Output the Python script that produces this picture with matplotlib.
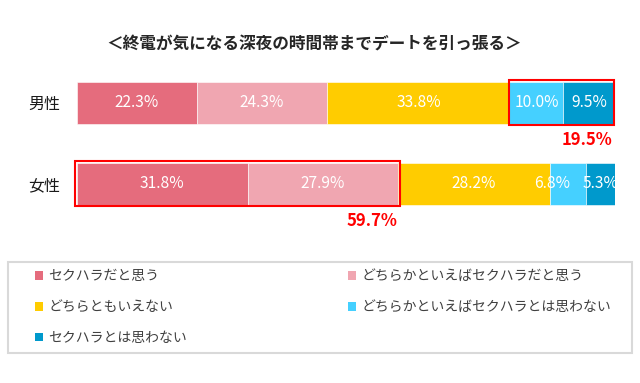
import numpy as np
import matplotlib
matplotlib.use("Agg")
import matplotlib.pyplot as plt
from matplotlib.patches import Patch, Rectangle

plt.rcParams['font.family'] = ['Noto Sans CJK JP', 'DejaVu Sans']

title = "＜終電が気になる深夜の時間帯までデートを引っ張る＞"
groups = ["男性", "女性"]
answers = ["セクハラだと思う", "どちらかといえばセクハラだと思う", "どちらともいえない",
           "どちらかといえばセクハラとは思わない", "セクハラとは思わない"]
male = [22.3, 24.3, 33.8, 10.0, 9.5]
female = [31.8, 27.9, 28.2, 6.8, 5.3]
colors = ["#E56C7D", "#F0A6B1", "#FFCC00", "#45D0FF", "#0099CC"]

# which segments get the red box for each group
boxed = [(3, 5), (0, 2)]

values = np.array([male, female])

fig = plt.figure(figsize=(6.4, 3.83), dpi=100)
W, H = 640, 383
ax = fig.add_axes([76.5 / W, 1 - 240 / H, (615 - 76.5) / W, 180 / H])

bar_h = 0.525
y = np.arange(len(groups))
left = np.zeros(len(groups))
last = len(answers) - 1
for i, name in enumerate(answers):
    ax.barh(y, values[:, i], left=left, height=bar_h, color=colors[i],
            edgecolor='white', linewidth=0.4, label=name)
    for j in range(len(groups)):
        # narrow segments in the middle: label pushed left like the original
        dx = -16 if (values[j, i] < 8 and i != last) else 0
        ax.annotate(f"{values[j, i]:.1f}%", xy=(left[j] + values[j, i] / 2, y[j]),
                    xytext=(dx, 0), textcoords='offset pixels',
                    ha='center', va='center', color='white', fontsize=11.2)
    left += values[:, i]

# red boxes + totals
for j, (a, b) in enumerate(boxed):
    x0 = values[j, :a].sum()
    x1 = values[j, :b].sum()
    pad_x = 0.35 if a == 0 else 0.0
    rect = Rectangle((x0 - pad_x, y[j] - bar_h / 2 - 0.015), x1 - x0 + 2 * pad_x,
                     bar_h + 0.03, fill=False, edgecolor='#FF0000', linewidth=1.5,
                     zorder=5, clip_on=False)
    ax.add_patch(rect)
    total = values[j, a:b].sum()
    ax.annotate(f"{total:.1f}%", xy=(x1 + pad_x, y[j] + bar_h / 2),
                xytext=(-2, -16), textcoords='offset pixels',
                ha='right', va='center', color='#FF0000', fontsize=12,
                fontweight='bold', annotation_clip=False)

ax.set_xlim(0, 100)
ax.set_ylim(1.691, -0.528)
ax.set_yticks(y)
ax.set_yticklabels(groups, fontsize=11.5, color='#1A1A1A')
ax.tick_params(axis='y', length=0, pad=12)
ax.set_xticks([])
for s in ax.spines.values():
    s.set_visible(False)

fig.text(314 / W, 1 - 44 / H, title, ha='center', va='center',
         fontsize=12, fontweight='bold', color='#262626')

# legend frame
fig.add_artist(Rectangle((8 / W, 1 - 352.5 / H), 624 / W, 90.5 / H,
                         transform=fig.transFigure, fill=False,
                         edgecolor='#D9D9D9', linewidth=1.5))
handles = [Patch(facecolor=c, edgecolor='none') for c in colors]
order = [0, 2, 4, 1, 3]
fig.legend([handles[k] for k in order], [answers[k] for k in order],
           ncol=2, mode='expand', loc='center',
           bbox_to_anchor=(35 / W, 1 - 352 / H, (611 - 35) / W, 90 / H),
           frameon=False, borderpad=0, borderaxespad=0,
           handlelength=0.58, handleheight=0.6, handletextpad=0.4,
           labelspacing=1.22, fontsize=10, labelcolor='#404040')

fig.savefig("out.png", dpi=100)
